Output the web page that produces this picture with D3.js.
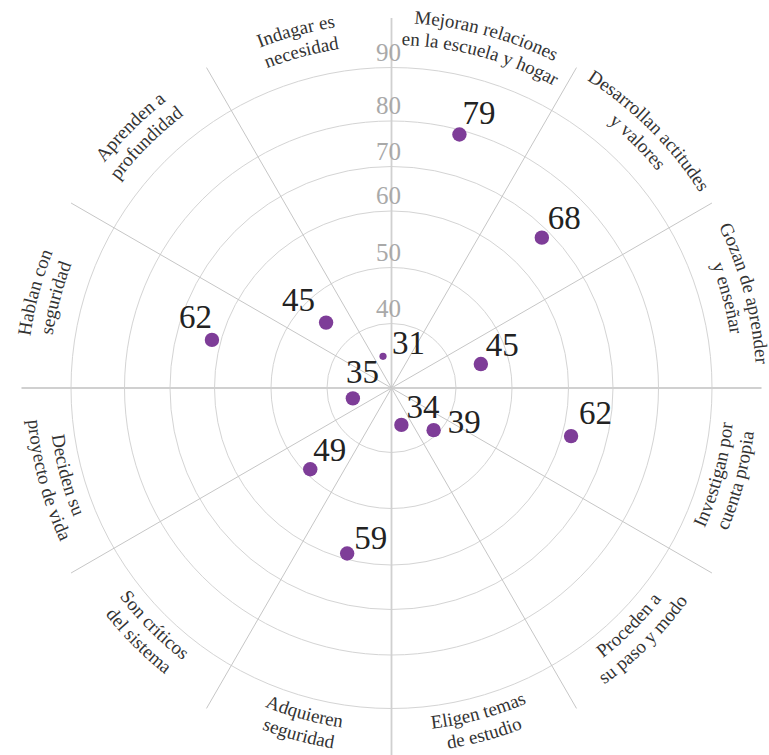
<!DOCTYPE html>
<html>
<head>
<meta charset="utf-8">
<script src="https://cdn.jsdelivr.net/npm/d3@7"></script>
<style>
  html, body { margin: 0; padding: 0; background: #fff; }
  svg { display: block; }
</style>
</head>
<body>
<div id="chart"></div>
<script>
// categories, clockwise from 12 o'clock, each split in its two label lines
const labelLines = [
    ['Mejoran relaciones', 'en la escuela y hogar'],
    ['Desarrollan actitudes', 'y valores'],
    ['Gozan de aprender', 'y enseñar'],
    ['Investigan por', 'cuenta propia'],
    ['Proceden a', 'su paso y modo'],
    ['Eligen temas', 'de estudio'],
    ['Adquieren', 'seguridad'],
    ['Son críticos', 'del sistema'],
    ['Deciden su', 'proyecto de vida'],
    ['Hablan con', 'seguridad'],
    ['Aprenden a', 'profundidad'],
    ['Indagar es', 'necesidad']
];
const categories = labelLines.map(l => l.join(' '));
const values = [79, 68, 45, 62, 39, 34, 59, 49, 35, 62, 45, 31];
const ringTicks = [40, 50, 60, 70, 80, 90];

const width = 769, height = 755;
const cx = 391.5, cy = 388;
const spokeLength = 370;
const serif = "'Liberation Serif', 'Times New Roman', Times, 'DejaVu Serif', serif";

const svg = d3.select('#chart')
    .append('svg')
        .attr('width', width)
        .attr('height', height)
        .style('font-family', serif)
    .append('g')
        .attr('transform', `translate(${cx},${cy})`);

// radial scale, the rings in the original are not evenly spaced
const r = d3.scaleLinear()
    .domain([30, 35, 40, 50, 60, 70, 80, 90])
    .range([31, 40, 64.5, 120.5, 177, 221.5, 267, 320.5]);

const angle = d3.scaleBand()
    .domain(categories)
    .range([0, 2 * Math.PI]);
const mid = c => angle(c) + angle.bandwidth() / 2;

// the smallest value is drawn with a smaller dot
const dotSize = d3.scaleThreshold().domain([32]).range([3.6, 7.2]);

// rings
svg.selectAll('.ring')
    .data(ringTicks)
    .join('circle')
        .attr('class', 'ring')
        .attr('r', d => r(d))
        .attr('fill', 'none')
        .attr('stroke', '#d4d4d4')
        .attr('stroke-width', 1);

// spokes on the sector borders
svg.selectAll('.spoke')
    .data(categories)
    .join('line')
        .attr('class', 'spoke')
        .attr('x1', 0).attr('y1', 0)
        .attr('x2', d => d3.pointRadial(angle(d), spokeLength)[0])
        .attr('y2', d => d3.pointRadial(angle(d), spokeLength)[1])
        .attr('stroke', (d, i) => i % 3 === 0 ? '#d0d0d0' : '#c6c6c6')
        .attr('stroke-width', (d, i) => i % 3 === 0 ? 1.8 : 1);

// ring values along the vertical axis
svg.selectAll('.tick')
    .data(ringTicks)
    .join('text')
        .attr('class', 'tick')
        .attr('x', -3)
        .attr('y', d => -r(d) - 7)
        .attr('text-anchor', 'middle')
        .attr('font-family', serif)
        .attr('fill', '#a9a9a9')
        .attr('font-size', 25)
        .text(d => d);

// dots
svg.selectAll('.dot')
    .data(values)
    .join('circle')
        .attr('class', 'dot')
        .attr('cx', (d, i) => d3.pointRadial(mid(categories[i]), r(d))[0])
        .attr('cy', (d, i) => d3.pointRadial(mid(categories[i]), r(d))[1])
        .attr('r', d => dotSize(d))
        .attr('fill', '#7e3d98');

// value labels, nudged by hand like in the original
const labelNudge = [
    [3, -11], [6, -9], [5, -8], [8, -12], [14, 3], [5, -7],
    [7, -5], [3, -8], [-7, -15], [-33, -12], [-44, -12], [9, -2]
];
svg.selectAll('.value')
    .data(values)
    .join('text')
        .attr('class', 'value')
        .attr('x', (d, i) => d3.pointRadial(mid(categories[i]), r(d))[0] + labelNudge[i][0])
        .attr('y', (d, i) => d3.pointRadial(mid(categories[i]), r(d))[1] + labelNudge[i][1])
        .attr('font-family', serif)
        .attr('fill', '#222')
        .attr('font-size', 33)
        .text(d => d);

// category labels on arcs, flipped in the lower half so they read upright
const defs = svg.append('defs');
const span = 0.75;
categories.forEach((c, i) => {
    const a = mid(c);
    const top = Math.cos(a) > 0;
    labelLines[i].forEach((line, j) => {
        const R = top ? 365 - 22 * j : 343 + 22 * j;
        const p0 = d3.pointRadial(top ? a - span : a + span, R);
        const p1 = d3.pointRadial(top ? a + span : a - span, R);
        const id = `arc-${i}-${j}`;
        defs.append('path')
            .attr('id', id)
            .attr('d', `M${p0[0]},${p0[1]} A${R},${R} 0 0 ${top ? 1 : 0} ${p1[0]},${p1[1]}`);
        svg.append('text')
            .attr('font-family', serif)
            .attr('fill', '#333')
            .attr('font-size', 19)
          .append('textPath')
            .attr('href', `#${id}`)
            .attr('startOffset', '50%')
            .attr('text-anchor', 'middle')
            .text(line);
    });
});
</script>
</body>
</html>
